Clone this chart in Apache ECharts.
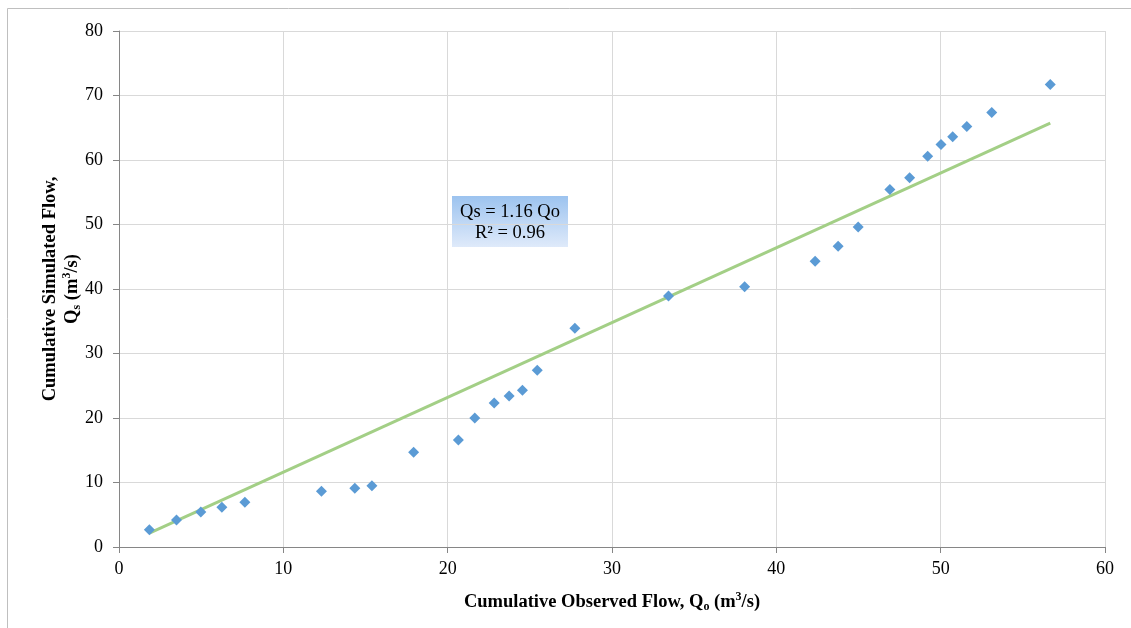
<!DOCTYPE html>
<html>
<head>
<meta charset="utf-8">
<script src="https://cdn.jsdelivr.net/npm/echarts@6/dist/echarts.min.js"></script>
<style>
  html, body { margin: 0; padding: 0; background: #fff; }
  #chart { width: 1131px; height: 628px; }
</style>
</head>
<body>
<div id="chart"></div>
<script>
// observed vs simulated cumulative flow (m3/s)
var observed = [1.85, 3.5, 4.98, 6.26, 7.66, 12.32, 14.35, 15.39, 17.93, 20.65,
                21.65, 22.83, 23.74, 24.55, 25.45, 27.74, 33.44, 38.07, 42.36, 43.76,
                44.98, 46.91, 48.11, 49.21, 50.02, 50.73, 51.59, 53.11, 56.67];
var simulated = [2.69, 4.2, 5.44, 6.17, 6.95, 8.66, 9.12, 9.48, 14.7, 16.6,
                 20.0, 22.33, 23.42, 24.3, 27.4, 33.9, 38.9, 40.36, 44.3, 46.63,
                 49.63, 55.44, 57.24, 60.6, 62.4, 63.6, 65.2, 67.35, 71.7];
// trend line end points (Qs = 1.16 Qo)
var trendX = [1.85, 56.67];
var trendY = [2.15, 65.7];

var xTicks = [0, 10, 20, 30, 40, 50, 60];
var yTicks = [0, 10, 20, 30, 40, 50, 60, 70, 80];

var serif = '"Liberation Serif", "Times New Roman", serif';

var points = observed.map(function (v, i) { return [v, simulated[i]]; });
var trend = trendX.map(function (v, i) { return [v, trendY[i]]; });

var titleRich = {
    b: { fontFamily: serif, fontSize: 18.5, fontWeight: 'bold', color: '#000', lineHeight: 22 },
    sub: { fontFamily: serif, fontSize: 12, fontWeight: 'bold', color: '#000', lineHeight: 22, verticalAlign: 'bottom' },
    sup: { fontFamily: serif, fontSize: 12, fontWeight: 'bold', color: '#000', lineHeight: 22, verticalAlign: 'top' }
};

var chart = echarts.init(document.getElementById('chart'));
chart.setOption({
    animation: false,
    backgroundColor: '#fff',
    grid: { left: 119, right: 26, top: 31, bottom: 81 },
    xAxis: {
        type: 'value',
        min: xTicks[0],
        max: xTicks[xTicks.length - 1],
        interval: 10,
        name: '{b|Cumulative Observed Flow, Q}{sub|o}{b| (m}{sup|3}{b|/s)}',
        nameLocation: 'middle',
        nameGap: 44,
        nameMoveOverlap: false,
        nameTextStyle: { rich: titleRich },
        axisLine: { show: true, lineStyle: { color: '#868686', width: 1 } },
        axisTick: { show: true, length: 6, lineStyle: { color: '#868686' } },
        axisLabel: { fontFamily: serif, fontSize: 18, color: '#000', margin: 13 },
        splitLine: { show: true, lineStyle: { color: '#d9d9d9', width: 1 } }
    },
    yAxis: {
        type: 'value',
        min: yTicks[0],
        max: yTicks[yTicks.length - 1],
        interval: 10,
        name: '{b|Cumulative Simulated Flow,}\n{b|Q}{sub|s}{b| (m}{sup|3}{b|/s)}',
        nameLocation: 'middle',
        nameRotate: 90,
        nameGap: 36,
        nameMoveOverlap: false,
        nameTextStyle: { rich: titleRich, align: 'center' },
        axisLine: { show: true, lineStyle: { color: '#868686', width: 1 } },
        axisTick: { show: true, length: 6, lineStyle: { color: '#868686' } },
        axisLabel: { fontFamily: serif, fontSize: 18, color: '#000', margin: 16 },
        splitLine: { show: true, lineStyle: { color: '#d9d9d9', width: 1 } }
    },
    series: [
        {
            type: 'line',
            data: trend,
            showSymbol: false,
            lineStyle: { color: '#a3cf86', width: 3 },
            z: 2
        },
        {
            type: 'scatter',
            data: points,
            symbol: 'diamond',
            symbolSize: 11,
            itemStyle: { color: '#5b9bd5', opacity: 1 },
            z: 3
        }
    ],
    graphic: [
        {
            type: 'polyline',
            shape: { points: [[7.5, 628], [7.5, 8.5], [1131, 8.5]] },
            style: { stroke: '#bfbfbf', lineWidth: 1, fill: null },
            silent: true
        },
        {
            type: 'group',
            left: 452,
            top: 196,
            children: [
                {
                    type: 'rect',
                    shape: { x: 0, y: 0, width: 116, height: 51 },
                    style: {
                        fill: new echarts.graphic.LinearGradient(0, 0, 0, 1, [
                            { offset: 0, color: '#9cc3ef' },
                            { offset: 1, color: '#dfeafa' }
                        ])
                    }
                },
                {
                    type: 'text',
                    x: 58, y: 16,
                    style: { text: 'Qs = 1.16 Qo', font: '18.5px ' + serif, fill: '#000', align: 'center', verticalAlign: 'middle' }
                },
                {
                    type: 'text',
                    x: 58, y: 37,
                    style: { text: 'R² = 0.96', font: '18.5px ' + serif, fill: '#000', align: 'center', verticalAlign: 'middle' }
                }
            ]
        }
    ]
});
</script>
</body>
</html>
